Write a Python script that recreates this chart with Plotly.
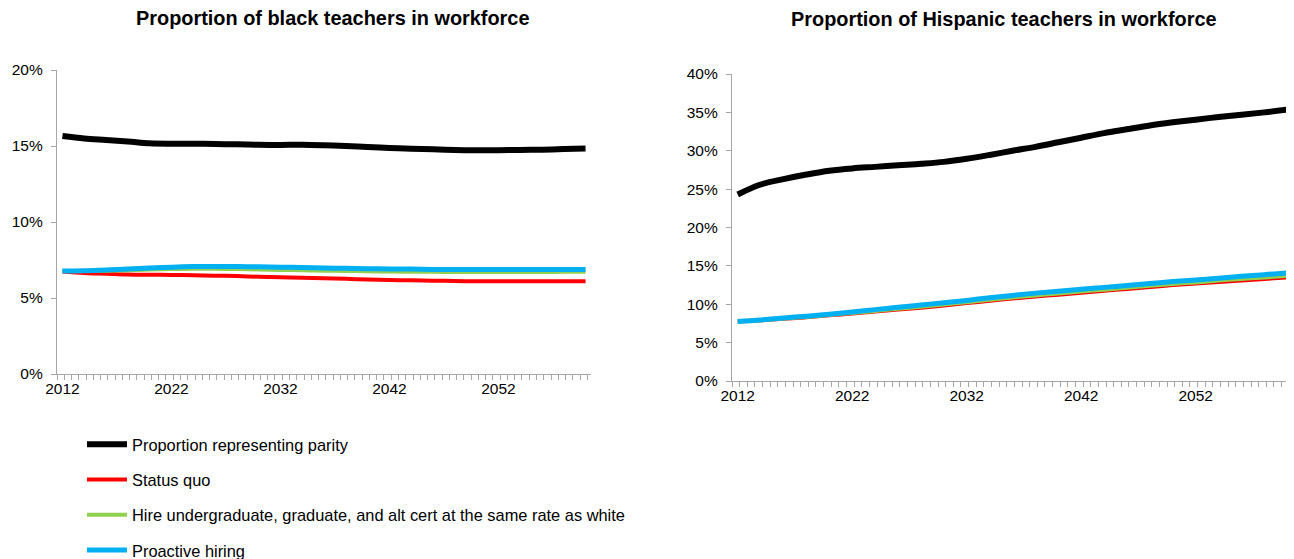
import plotly.graph_objects as go

years = [2012, 2014, 2016, 2018, 2020, 2022, 2024, 2026, 2028, 2030, 2032, 2034, 2036,
         2038, 2040, 2042, 2044, 2046, 2048, 2050, 2052, 2054, 2056, 2058, 2060]

series_names = [
    "Proportion representing parity",
    "Status quo",
    "Hire undergraduate, graduate, and alt cert at the same rate as white",
    "Proactive hiring",
]
series_colors = ["#000000", "#FF0000", "#92D050", "#00B0F0"]

# Black teachers (%)
black_parity = [15.66, 15.5, 15.4, 15.3, 15.18, 15.15, 15.15, 15.13, 15.11, 15.08, 15.07, 15.08,
                15.05, 15.0, 14.94, 14.87, 14.82, 14.78, 14.74, 14.72, 14.72, 14.74, 14.76, 14.8, 14.83]
black_status = [6.75, 6.65, 6.6, 6.55, 6.53, 6.52, 6.5, 6.47, 6.44, 6.4, 6.36, 6.33, 6.3,
                6.26, 6.22, 6.19, 6.16, 6.14, 6.12, 6.1, 6.1, 6.1, 6.1, 6.1, 6.1]
black_same = [6.78, 6.78, 6.8, 6.83, 6.87, 6.9, 6.92, 6.92, 6.9, 6.88, 6.85, 6.82, 6.8,
              6.78, 6.76, 6.74, 6.73, 6.72, 6.71, 6.71, 6.71, 6.71, 6.71, 6.72, 6.72]
black_proactive = [6.78, 6.8, 6.85, 6.9, 6.97, 7.03, 7.07, 7.08, 7.07, 7.05, 7.03, 7.0, 6.98,
                   6.95, 6.93, 6.91, 6.9, 6.88, 6.87, 6.87, 6.87, 6.88, 6.88, 6.88, 6.88]

# Hispanic teachers (%)
hisp_parity = [24.3, 25.6, 26.3, 26.9, 27.4, 27.7, 27.9, 28.1, 28.3, 28.55, 28.95, 29.45, 30.0,
               30.5, 31.1, 31.7, 32.3, 32.8, 33.3, 33.7, 34.05, 34.4, 34.7, 35.0, 35.35]
hisp_status = [7.75, 7.9, 8.1, 8.3, 8.55, 8.8, 9.05, 9.3, 9.55, 9.85, 10.15, 10.45, 10.75,
               11.0, 11.25, 11.5, 11.75, 12.0, 12.25, 12.5, 12.7, 12.9, 13.1, 13.3, 13.5]
hisp_same = [7.75, 7.92, 8.13, 8.35, 8.6, 8.87, 9.13, 9.4, 9.67, 9.97, 10.27, 10.58, 10.88,
             11.15, 11.4, 11.65, 11.9, 12.15, 12.4, 12.65, 12.85, 13.08, 13.3, 13.5, 13.7]
hisp_proactive = [7.75, 7.95, 8.2, 8.45, 8.7, 9.0, 9.3, 9.6, 9.9, 10.2, 10.5, 10.85, 11.15,
                  11.45, 11.7, 11.95, 12.2, 12.45, 12.7, 12.95, 13.15, 13.4, 13.65, 13.85, 14.1]

x_tickvals = [2012, 2022, 2032, 2042, 2052]
black_yticks = [0, 5, 10, 15, 20]
hisp_yticks = [0, 5, 10, 15, 20, 25, 30, 35, 40]

titles = ["Proportion of black teachers in workforce", "Proportion of Hispanic teachers in workforce"]

FONT = "Liberation Sans, Arial, sans-serif"
widths = [6, 4, 4, 5]

fig = go.Figure()

black_data = [black_parity, black_status, black_same, black_proactive]
hisp_data = [hisp_parity, hisp_status, hisp_same, hisp_proactive]

for i, (name, color) in enumerate(zip(series_names, series_colors)):
    fig.add_trace(go.Scatter(
        x=years, y=black_data[i], name=name, mode="lines",
        line=dict(color=color, width=widths[i], shape="spline"),
        xaxis="x", yaxis="y", legendgroup=f"g{i}", showlegend=True,
    ))
for i, (name, color) in enumerate(zip(series_names, series_colors)):
    fig.add_trace(go.Scatter(
        x=years, y=hisp_data[i], name=name, mode="lines",
        line=dict(color=color, width=widths[i], shape="spline"),
        xaxis="x2", yaxis="y2", legendgroup=f"g{i}", showlegend=False,
    ))

# page has an 8px body margin; figure sized to fit the window
OFF = 8
W, H = 1294 - OFF, 559 - OFF
axis_color = "#A6A6A6"

def px(x):
    return (x - OFF) / W

def py(y):
    return 1 - (y - OFF) / H

def xaxis_cfg(x0, x1, anchor):
    return dict(
        domain=[px(x0), px(x1)], anchor=anchor, range=[2011.5, 2060.5],
        tickmode="array", tickvals=x_tickvals, ticktext=[str(v) for v in x_tickvals],
        ticks="", automargin=False,
        showline=True, linecolor=axis_color, linewidth=1.3,
        showgrid=False, zeroline=False,
        tickfont=dict(family=FONT, size=15.5, color="#000000"),
        minor=dict(ticks="outside", ticklen=5, tickcolor=axis_color,
                   tick0=2011.5, dtick=2 / 3, showgrid=False),
    )

def yaxis_cfg(y_top, y_bot, anchor, rng, tv):
    return dict(
        domain=[py(y_bot), py(y_top)], anchor=anchor, range=rng,
        tickmode="array", tickvals=tv, ticktext=[f"{v}%" for v in tv],
        ticks="outside", ticklen=5, tickcolor=axis_color, automargin=False,
        ticklabelstandoff=5,
        showline=True, linecolor=axis_color, linewidth=1.3,
        showgrid=False, zeroline=False,
        tickfont=dict(family=FONT, size=15.5, color="#000000"),
    )

fig.update_layout(
    width=W, height=H,
    margin=dict(l=0, r=0, t=0, b=0, autoexpand=False),
    paper_bgcolor="white", plot_bgcolor="white",
    xaxis=xaxis_cfg(57, 591, "y"),
    yaxis=yaxis_cfg(70, 374, "x", [0, 20], black_yticks),
    xaxis2=xaxis_cfg(732, 1293, "y2"),
    yaxis2=yaxis_cfg(74, 381, "x2", [0, 40], hisp_yticks),
    showlegend=True,
    legend=dict(
        x=px(82), y=py(427), xanchor="left", yanchor="top",
        orientation="v", tracegroupgap=11,
        font=dict(family=FONT, size=16.4, color="#000000"),
        bgcolor="rgba(0,0,0,0)", itemwidth=40,
    ),
    annotations=[
        dict(text=f"<b>{titles[0]}</b>", x=px(332), y=py(18), xref="paper", yref="paper",
             showarrow=False, font=dict(family=FONT, size=19.9, color="#000000"),
             xanchor="center", yanchor="middle"),
        dict(text=f"<b>{titles[1]}</b>", x=px(1004), y=py(19), xref="paper", yref="paper",
             showarrow=False, font=dict(family=FONT, size=19.9, color="#000000"),
             xanchor="center", yanchor="middle"),
    ],
)

fig.write_html("out.html")
